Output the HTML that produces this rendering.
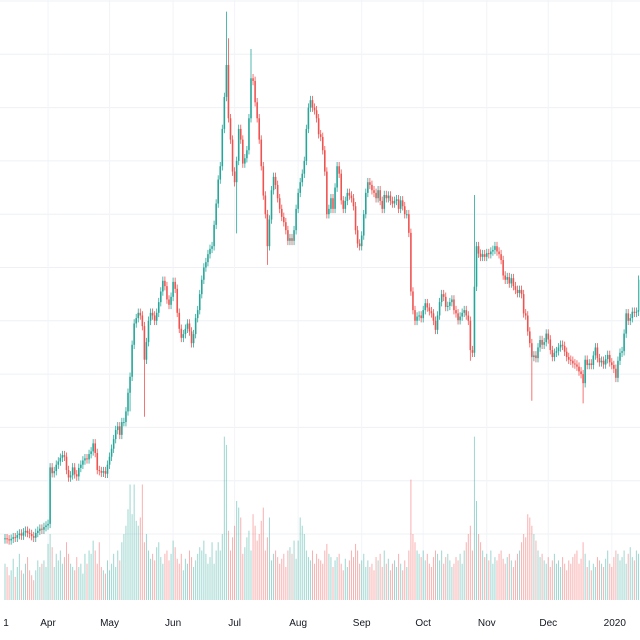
<!DOCTYPE html>
<html><head><meta charset="utf-8"><style>
html,body{margin:0;padding:0;background:#fff;}
svg{display:block;font-family:"Liberation Sans",sans-serif;}
</style></head><body>
<svg id="chart" width="640" height="640" viewBox="0 0 640 640" xmlns="http://www.w3.org/2000/svg">
<rect x="0" y="0" width="640" height="640" fill="#ffffff"/>
<g id="grid"></g>
<g id="vol"></g>
<g id="candles"></g>
<g id="xaxis"></g>
</svg>
<script>
const closes = [
9.2,9.0,8.8,9.1,9.4,9.3,9.8,10.1,9.7,10.3,
10.6,10.2,10.0,9.6,9.3,10.2,10.6,11.0,10.8,11.3,
11.6,11.9,22.5,21.4,21.8,23.0,23.6,24.3,24.8,24.5,
22.0,20.6,21.0,22.5,21.2,20.8,22.4,23.0,23.8,24.2,
24.0,25.0,25.5,27.0,25.2,22.0,21.8,21.5,21.8,21.3,
23.0,24.5,26.0,27.8,29.5,30.2,28.6,31.0,31.0,33.0,
36.5,39.5,45.5,49.5,50.5,51.5,51.0,49.0,42.7,46.0,
50.0,51.5,51.0,50.0,51.5,53.5,55.5,57.5,56.5,54.0,
53.0,54.5,57.3,56.0,51.5,48.5,46.8,47.5,48.5,49.5,
48.0,45.8,47.5,50.5,52.0,55.0,57.7,60.0,61.0,62.5,
63.5,64.0,68.0,72.0,76.5,79.0,86.0,92.0,98.0,88.0,
84.0,78.0,76.0,80.0,86.0,84.0,79.5,80.5,82.0,88.0,
95.5,95.0,91.0,88.0,84.0,79.0,73.5,70.0,64.0,69.0,
74.5,77.0,75.5,73.0,71.0,69.5,68.5,67.0,65.0,65.5,
65.0,67.0,71.0,74.0,76.0,77.6,80.0,86.0,90.0,91.4,
90.0,89.5,88.0,85.0,84.5,82.0,78.0,70.0,71.0,73.0,
71.0,75.0,79.0,77.6,72.6,71.0,72.5,74.0,73.5,73.0,
71.5,67.0,64.5,64.0,66.0,70.0,74.0,76.0,75.5,74.5,
74.0,73.0,74.5,72.5,71.0,73.6,73.0,73.5,72.5,72.0,
72.5,72.8,71.0,72.6,71.5,70.0,70.0,66.5,55.5,52.0,
50.0,50.8,51.0,50.5,52.0,53.3,52.5,51.8,51.4,50.0,
48.3,51.0,53.5,55.0,54.5,52.6,52.8,53.5,54.0,52.0,
51.4,50.1,50.8,51.5,52.0,51.0,50.0,44.5,44.0,56.4,
64.0,62.6,62.0,62.5,62.0,62.7,62.5,63.0,63.3,64.0,
63.0,62.5,61.4,58.5,57.7,58.2,57.0,58.0,56.5,55.8,
55.2,55.8,55.0,51.4,51.0,48.0,45.8,43.2,43.5,43.0,
45.0,46.4,45.5,46.0,47.6,46.5,44.5,43.2,44.0,44.3,
45.0,45.5,45.3,44.2,43.2,42.7,42.5,42.0,41.8,41.4,
40.5,40.0,38.3,42.7,41.7,42.0,41.7,43.5,45.0,43.0,
42.2,42.5,41.8,42.8,43.6,42.2,41.7,41.0,39.3,42.5,
44.0,44.3,47.6,51.4,50.0,50.5,51.7,51.5,51.7,52.0,
57.7];
const firstOpen = 9.0;
const volumes = [
22,20,15,18,25,14,20,28,18,16,
22,26,18,15,12,18,24,20,22,24,
20,34,40,32,20,28,24,30,22,26,
35,28,22,20,18,26,20,22,16,28,
22,30,28,36,30,22,35,20,18,16,
24,18,22,28,20,30,24,35,40,45,
55,70,52,70,48,45,50,70,35,40,
30,25,28,24,32,35,26,22,28,30,
24,28,36,32,25,22,28,18,25,22,
30,26,20,24,28,32,30,36,28,22,
26,35,22,30,35,30,40,99,94,42,
30,38,45,60,56,50,28,32,38,42,
30,52,45,36,40,48,56,30,38,50,
24,28,30,26,22,25,28,20,30,32,
28,36,25,36,50,45,40,30,26,24,
30,22,28,25,24,22,30,34,28,26,
20,24,26,28,22,18,25,20,24,30,
26,34,30,22,24,28,20,24,20,22,
18,26,24,28,20,30,22,25,18,22,
24,20,28,22,18,24,20,30,73,40,
35,30,28,26,30,24,28,22,20,26,
30,28,24,30,22,26,28,24,20,22,
26,24,28,22,30,35,40,45,30,99,
60,40,35,30,26,28,24,30,22,26,
24,28,30,25,22,26,28,24,20,24,
28,30,35,40,38,52,50,45,40,36,
30,26,28,24,22,26,20,24,28,22,
24,20,26,22,18,24,22,26,28,30,
22,25,35,28,20,24,18,22,20,26,
24,22,20,25,30,22,20,26,30,28,
24,26,30,22,28,32,26,24,30,28,
42];
const spikeDays = [68,108,109,113,120,128,229,230,227,257,282,309,61];
const spikeHigh = [null,108,103,null,101,null,73.6,null,null,null,null,58.5,null];
const spikeLow  = [32,null,null,66.4,null,60.5,null,null,42.5,35,34.5,null,33];
const monthLabels = ["1","Apr","May","Jun","Jul","Aug","Sep","Oct","Nov","Dec","2020"];
const monthDays = [0,21,51,82,112,143,174,204,235,265,296];
const priceTicks = [10,20,30,40,50,60,70,80,90,100,110];

const NS = "http://www.w3.org/2000/svg";
const xOf = d => 5 + d * 2.05;
const yOf = p => 587.3 - p * 5.33;
const vY = v => 600 - v * 1.65;
function mk(tag, attrs, parent){const e=document.createElementNS(NS,tag);for(const k in attrs)e.setAttribute(k,attrs[k]);parent.appendChild(e);return e;}

const grid = document.getElementById('grid');
priceTicks.forEach(p=>{
  const l = mk('line',{x1:0,x2:640,y1:yOf(p),y2:yOf(p),stroke:'#eef0f5','stroke-width':1},grid);
  
  
});
monthDays.forEach((d,i)=>{
  if(i===0) return;
  const l = mk('line',{x1:xOf(d),x2:xOf(d),y1:0,y2:600,stroke:'#f2f4f8','stroke-width':1},grid);
  
  
});

const GREEN='#26a69a', RED='#ef5350';
const vol = document.getElementById('vol');
const cg = document.getElementById('candles');
closes.forEach((c,i)=>{
  const o = i===0 ? firstOpen : closes[i-1];
  const up = c >= o;
  const x = xOf(i);
  const v = mk('rect',{x:x-0.5,y:vY(volumes[i]),width:1,height:600-vY(volumes[i]),fill:up?'rgba(38,166,154,0.45)':'rgba(239,83,80,0.45)'},vol);
  
  
  let hi = Math.max(o,c)+0.8, lo = Math.min(o,c)-0.8;
  const si = spikeDays.indexOf(i);
  if(si>=0){ if(spikeHigh[si]!==null) hi=spikeHigh[si]; if(spikeLow[si]!==null) lo=spikeLow[si]; }
  const col = up?GREEN:RED;
  const w = mk('line',{x1:x,x2:x,y1:yOf(hi),y2:yOf(lo),stroke:col,'stroke-width':0.8},cg);
  
  
  const top = yOf(Math.max(o,c)), bot = yOf(Math.min(o,c));
  const b = mk('rect',{x:x-0.8,y:top,width:1.6,height:Math.max(1,bot-top),fill:col},cg);
  
  
});

const xa = document.getElementById('xaxis');
monthLabels.forEach((t,i)=>{
  const x = i===0 ? 6 : xOf(monthDays[i]) + (i===10?3:0);
  const e = mk('text',{x:x,y:626,'font-size':10,fill:'#131722','text-anchor':'middle'},xa);
  e.textContent = t;
  
  
});
</script>
</body></html>
